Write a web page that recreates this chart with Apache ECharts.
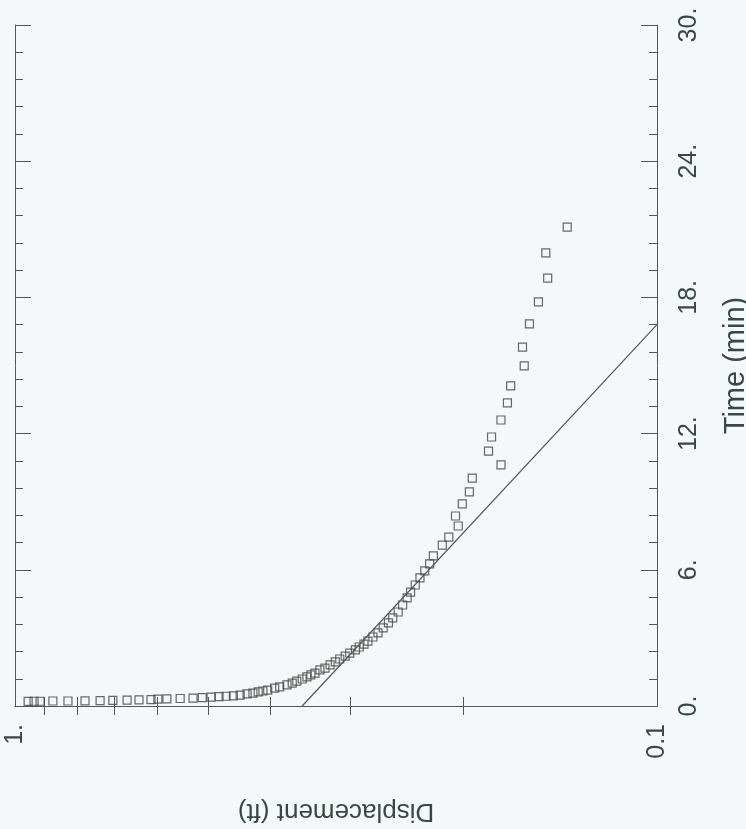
<!DOCTYPE html>
<html>
<head>
<meta charset="utf-8">
<script src="https://cdn.jsdelivr.net/npm/echarts@6/dist/echarts.min.js"></script>
<style>
  html, body { margin: 0; padding: 0; background: #f4f8f8; }
  #chart { width: 746px; height: 829px; }
</style>
</head>
<body>
<div id="chart"></div>
<script>
// measured points (displacement in ft, time in min)
const timeMin = [0.20, 0.21, 0.21, 0.22, 0.22, 0.23, 0.24, 0.25, 0.26, 0.27,
  0.28, 0.30, 0.31, 0.33, 0.35, 0.37, 0.39, 0.41, 0.43, 0.45,
  0.48, 0.53, 0.57, 0.62, 0.66, 0.70, 0.79, 0.84, 0.93, 1.01,
  1.10, 1.19, 1.28, 1.37, 1.45, 1.59, 1.67, 1.81, 1.94, 2.07,
  2.20, 2.33, 2.47, 2.60, 2.73, 2.86, 3.04, 3.22, 3.44, 3.66,
  3.88, 4.14, 4.45, 4.76, 5.02, 5.33, 5.64, 5.95, 6.26, 6.61,
  7.09, 7.44, 7.93, 8.37, 8.90, 9.43, 10.04, 10.62, 11.23, 11.85,
  12.60, 13.35, 14.10, 14.98, 15.81, 16.83, 17.80, 18.85, 19.96, 21.10];
const displacementFt = [0.954, 0.934, 0.914, 0.873, 0.827, 0.778, 0.737, 0.704, 0.669, 0.641,
  0.614, 0.599, 0.580, 0.553, 0.528, 0.511, 0.495, 0.481, 0.469, 0.457,
  0.446, 0.435, 0.426, 0.418, 0.411, 0.404, 0.394, 0.387, 0.377, 0.370,
  0.364, 0.357, 0.351, 0.346, 0.341, 0.335, 0.329, 0.323, 0.317, 0.312,
  0.306, 0.301, 0.295, 0.291, 0.286, 0.282, 0.277, 0.272, 0.267, 0.262,
  0.258, 0.253, 0.249, 0.245, 0.242, 0.238, 0.234, 0.230, 0.226, 0.223,
  0.216, 0.211, 0.204, 0.206, 0.201, 0.196, 0.194, 0.175, 0.183, 0.181,
  0.175, 0.171, 0.169, 0.161, 0.162, 0.158, 0.153, 0.148, 0.149, 0.138];

// straight-line fit
const fitTime = [0, 16.8];
const fitDisp = [0.357, 0.1];

// ticks
const dispTicks = [0.2, 0.3, 0.4, 0.5, 0.6, 0.7, 0.8, 0.9];
const dispLabels = [1, 0.1];

const lineColor = '#555';
const textColor = '#3a4843';
const font = 'Liberation Sans, Arial, sans-serif';

const chart = echarts.init(document.getElementById('chart'));

const logAxis = function (pos, showLabel) {
  return {
    type: 'log',
    logBase: 10,
    min: 0.1,
    max: 1,
    inverse: true,
    position: pos,
    axisLine: { show: true, lineStyle: { color: lineColor, width: 1 } },
    axisTick: { show: true, inside: true, length: 9, customValues: dispTicks,
      lineStyle: { color: lineColor } },
    axisLabel: {
      show: showLabel,
      customValues: dispLabels,
      rotate: 90,
      margin: 18,
      color: textColor,
      fontFamily: font,
      fontSize: 25,
      formatter: function (v) { return v > 0.5 ? '1.' : '0.1'; }
    },
    splitLine: { show: false }
  };
};

const timeAxis = function (pos, showLabel) {
  return {
    type: 'value',
    min: 0,
    max: 30,
    interval: 6,
    position: pos,
    axisLine: { show: true, lineStyle: { color: lineColor, width: 1 } },
    axisTick: { show: true, inside: true, length: 16, lineStyle: { color: lineColor } },
    minorTick: { show: true, splitNumber: 5, length: 8, lineStyle: { color: lineColor } },
    axisLabel: {
      show: showLabel,
      rotate: 90,
      margin: 20,
      color: textColor,
      fontFamily: font,
      fontSize: 25,
      formatter: function (v) { return v + '.'; }
    },
    splitLine: { show: false },
    minorSplitLine: { show: false }
  };
};

const xBottom = logAxis('bottom', true);
xBottom.name = 'Displacement (ft)';
xBottom.nameLocation = 'middle';
xBottom.nameRotate = 180;
xBottom.nameGap = 92;
xBottom.nameTextStyle = { color: textColor, fontFamily: font, fontSize: 26 };

const yRight = timeAxis('right', true);
yRight.name = 'Time (min)';
yRight.nameLocation = 'middle';
yRight.nameRotate = 90;
yRight.nameGap = 64;
yRight.nameTextStyle = { color: textColor, fontFamily: font, fontSize: 29 };

const option = {
  backgroundColor: '#f4f8f8',
  animation: false,
  grid: { left: 15, right: 89, top: 25, bottom: 123, containLabel: false, outerBoundsMode: 'none' },
  xAxis: [xBottom, logAxis('top', false)],
  yAxis: [yRight, timeAxis('left', false)],
  series: [
    {
      type: 'scatter',
      xAxisIndex: 0,
      yAxisIndex: 0,
      symbol: 'rect',
      symbolSize: 8,
      itemStyle: { color: 'transparent', borderColor: '#444', borderWidth: 1.2 },
      data: displacementFt.map(function (d, i) { return [d, timeMin[i]]; })
    },
    {
      type: 'line',
      xAxisIndex: 0,
      yAxisIndex: 0,
      showSymbol: false,
      lineStyle: { color: lineColor, width: 1.2 },
      data: fitDisp.map(function (d, i) { return [d, fitTime[i]]; })
    }
  ]
};

chart.setOption(option);
</script>
</body>
</html>
